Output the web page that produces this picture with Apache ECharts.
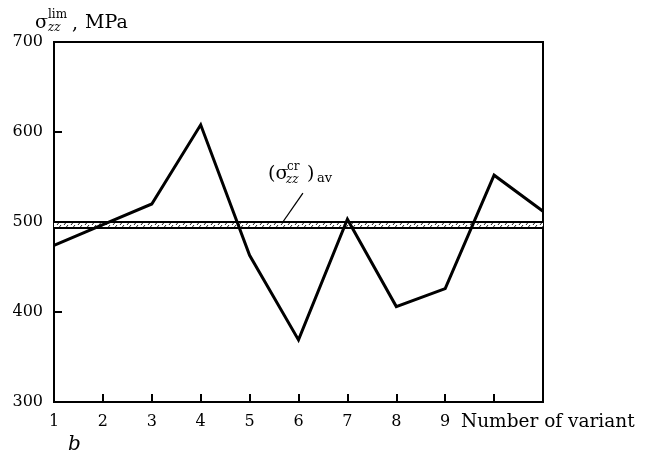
<!DOCTYPE html>
<html>
<head>
    <meta charset="UTF-8"/>
    <title>sigma lim</title>
    <script src="https://cdn.jsdelivr.net/npm/echarts@6/dist/echarts.min.js"></script>
    <style>
        html, body { margin: 0; padding: 0; background: #fff; }
        #main { width: 649px; height: 457px; }
    </style>
</head>
<body>
<div id="main"></div>
<script type="text/javascript">
    // data
    var variants = [1, 2, 3, 4, 5, 6, 7, 8, 9, 10, 11];
    var sigmaLim = [474, 497, 520, 608, 463, 369, 503, 406, 426, 552, 512];
    var bandTop = 500;      // (sigma_zz^cr)_av band
    var bandBottom = 494;
    var leader = [[5.68, 500], [6.09, 532]];
    var xLabels = ['1', '2', '3', '4', '5', '6', '7', '8', '9'];

    var FONT = 'DejaVu Serif';

    // hatch pattern for the band
    var pat = document.createElement('canvas');
    pat.width = 7; pat.height = 5;
    var ctx = pat.getContext('2d');
    ctx.fillStyle = '#fff';
    ctx.fillRect(0, 0, 7, 5);
    ctx.strokeStyle = '#222';
    ctx.lineWidth = 1;
    ctx.beginPath();
    ctx.moveTo(1, 5);
    ctx.lineTo(5, 0);
    ctx.stroke();

    var lineData = [];
    for (var i = 0; i < variants.length; i++) {
        lineData.push([variants[i], sigmaLim[i]]);
    }

    var myChart = echarts.init(document.getElementById('main'));

    function txt(x, y, s, size, italic) {
        return {
            type: 'text', z: 10,
            style: {
                text: s, x: x, y: y,
                font: (italic ? 'italic ' : '') + size + 'px "' + FONT + '"',
                fill: '#000', textAlign: 'left', textVerticalAlign: 'middle'
            }
        };
    }

    var option = {
        animation: false,
        backgroundColor: '#fff',
        grid: {
            left: 54, right: 106, top: 42, bottom: 55,
            show: true, borderColor: '#000', borderWidth: 2
        },
        xAxis: {
            type: 'value', min: 1, max: 11, interval: 1,
            axisLine: {show: true, lineStyle: {color: '#000', width: 2}},
            axisTick: {show: true, inside: true, length: 8, lineStyle: {color: '#000', width: 2}},
            splitLine: {show: false},
            axisLabel: {
                color: '#000', fontFamily: FONT, fontSize: 16, margin: 12,
                formatter: function (v) {
                    return xLabels.indexOf(String(v)) >= 0 ? String(v) : '';
                }
            }
        },
        yAxis: {
            type: 'value', min: 300, max: 700, interval: 100,
            axisLine: {show: true, lineStyle: {color: '#000', width: 2}},
            axisTick: {show: true, inside: true, length: 8, lineStyle: {color: '#000', width: 2}},
            splitLine: {show: false},
            axisLabel: {color: '#000', fontFamily: FONT, fontSize: 16, margin: 11, padding: [4, 0, 0, 0]}
        },
        series: [{
            // hatched band
            type: 'line', data: [], z: 1,
            markArea: {
                silent: true,
                itemStyle: {color: {image: pat, repeat: 'repeat'}},
                data: [[{yAxis: bandBottom}, {yAxis: bandTop}]]
            },
            markLine: {
                silent: true, symbol: 'none',
                label: {show: false},
                lineStyle: {color: '#000', type: 'solid', width: 2},
                data: [
                    {yAxis: bandTop},
                    {yAxis: bandBottom},
                    [{coord: leader[0], lineStyle: {width: 1.3}}, {coord: leader[1]}]
                ]
            }
        }, {
            type: 'line', data: lineData, z: 5,
            symbol: 'none',
            lineStyle: {color: '#000', width: 3, join: 'miter'}
        }],
        graphic: [
            // y axis title
            txt(35, 23, 'σ', 19),
            txt(48, 15, 'lim', 12),
            txt(48, 28, 'zz', 12, true),
            txt(72, 24, ',', 19),
            txt(85, 23, 'MPa', 19),
            // band label
            txt(268, 174, '(σ', 19),
            txt(287, 167, 'cr', 12),
            txt(286, 180, 'zz', 12, true),
            txt(307, 174, ')', 19),
            txt(317, 179, 'av', 13),
            // x axis name
            txt(461, 422, 'Number of variant', 18.5),
            txt(68, 445, 'b', 20, true)
        ]
    };
    myChart.setOption(option);
</script>
</body>
</html>
